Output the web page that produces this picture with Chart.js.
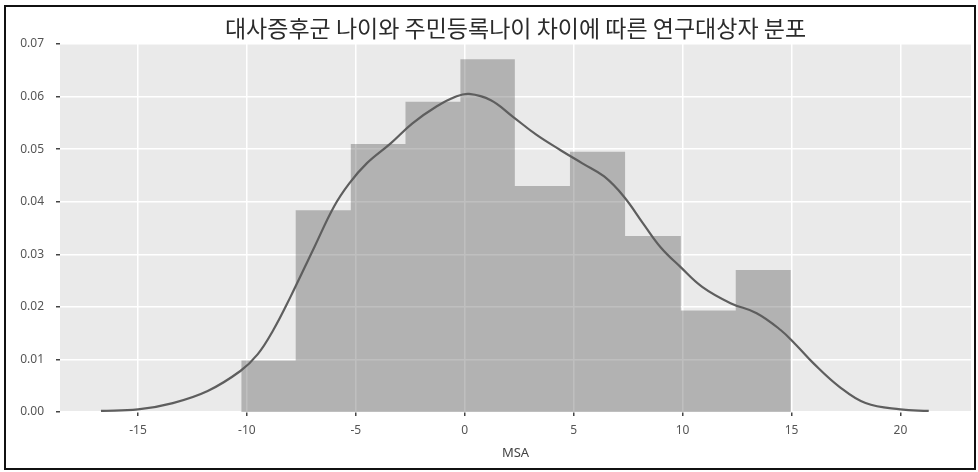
<!DOCTYPE html>
<html>
<head>
<meta charset="utf-8">
<script src="https://cdn.jsdelivr.net/npm/chart.js@4/dist/chart.umd.min.js"></script>
<style>
  html, body { margin: 0; padding: 0; background: #fff; }
  #wrap { position: relative; width: 978px; height: 472px; }
  #frame { position: absolute; left: 4px; top: 5px; width: 968px; height: 461px; border: 2px solid #111; pointer-events: none; }
  canvas { display: block; }
</style>
</head>
<body>
<div id="wrap">
  <canvas id="c" width="978" height="472"></canvas>
  <div id="frame"></div>
</div>
<script>
// Histogram bins (edges) and their density heights
const binEdges = [-10.26, -7.76, -5.23, -2.72, -0.2, 2.3, 4.83, 7.36, 9.92, 12.44, 14.97];
const binDensity = [0.0098, 0.0384, 0.0510, 0.0590, 0.0671, 0.0430, 0.0495, 0.0335, 0.0193, 0.0270];

// Kernel density estimate curve
const kdeX = [-16.7, -15.0, -13.4, -11.8, -10.3, -9.5, -8.8, -8.0, -6.9, -6.0, -5.3, -4.5, -3.4, -2.4, -1.3, -0.4, 0.2, 1.2, 2.2, 3.3, 4.4, 5.4, 6.4, 7.3, 8.2, 9.0, 9.9, 10.9, 12.2, 13.4, 14.5, 15.2, 16.0, 17.2, 18.4, 20.0, 21.3];
const kdeY = [0.0002, 0.0005, 0.0017, 0.0040, 0.0078, 0.0110, 0.0155, 0.0219, 0.0314, 0.0391, 0.0435, 0.0473, 0.0511, 0.0549, 0.0581, 0.0600, 0.0605, 0.0593, 0.0562, 0.0527, 0.0498, 0.0473, 0.0448, 0.0410, 0.0358, 0.0313, 0.0276, 0.0238, 0.0207, 0.0188, 0.0156, 0.0128, 0.0093, 0.0048, 0.0017, 0.0005, 0.0002];

const xTicks = [-15, -10, -5, 0, 5, 10, 15, 20];
const yTicks = [0, 0.01, 0.02, 0.03, 0.04, 0.05, 0.06, 0.07];

const titleText = '대사증후군 나이와 주민등록나이 차이에 따른 연구대상자 분포';
const xLabel = 'MSA';

// Histogram outline as a stepped series: bin i spans edge i to edge i+1 at binDensity[i]
const histData = binEdges.map((e, i) => ({ x: e, y: binDensity[Math.min(i, binDensity.length - 1)] }));
const kdeData = kdeX.map((x, i) => ({ x: x, y: kdeY[i] }));

// Plot background and centred title
const decor = {
  id: 'decor',
  beforeDraw(chart) {
    const { ctx, chartArea: a } = chart;
    ctx.save();
    ctx.fillStyle = '#eaeaea';
    ctx.fillRect(a.left, a.top, a.right - a.left, a.bottom - a.top);
    ctx.restore();
  },
  afterDraw(chart) {
    const { ctx, chartArea: a } = chart;
    ctx.save();
    ctx.fillStyle = '#2b2b2b';
    ctx.font = '23px "Noto Sans CJK KR", sans-serif';
    ctx.textAlign = 'center';
    ctx.textBaseline = 'middle';
    ctx.fillText(titleText, (a.left + a.right) / 2, 28);
    ctx.restore();
  }
};

const tickFont = { family: '"Noto Sans", "Open Sans", sans-serif', size: 12 };

new Chart(document.getElementById('c'), {
  type: 'line',
  data: {
    datasets: [
      {
        data: kdeData,
        borderColor: '#5e5e5e',
        borderWidth: 2.2,
        pointRadius: 0,
        tension: 0.4,
        fill: false,
        order: 0
      },
      {
        data: histData,
        stepped: 'before',
        backgroundColor: 'rgba(96,96,96,0.4)',
        borderWidth: 0,
        borderColor: 'rgba(0,0,0,0)',
        pointRadius: 0,
        fill: 'origin',
        order: 1
      }
    ]
  },
  plugins: [decor],
  options: {
    responsive: false,
    animation: false,
    layout: { padding: { left: 0, right: 7, top: 44, bottom: 0 } },
    plugins: { legend: { display: false }, tooltip: { enabled: false }, title: { display: false } },
    scales: {
      x: {
        type: 'linear',
        min: -18.58,
        max: 23.24,
        offset: false,
        afterBuildTicks: s => { s.ticks = xTicks.map(v => ({ value: v })); },
        afterFit: s => { s.height = 60; },
        grid: { color: '#ffffff', lineWidth: 1.5, offset: false, drawTicks: true, tickColor: '#444', tickLength: 4, tickWidth: 1.5 },
        border: { display: false },
        ticks: { color: '#555', font: tickFont, padding: 7, maxRotation: 0, callback: v => String(v) },
        title: { display: true, text: xLabel, color: '#444', font: { family: '"Noto Sans", sans-serif', size: 13 }, padding: { top: 2, bottom: 11 } }
      },
      y: {
        min: 0,
        max: 0.07,
        afterBuildTicks: s => { s.ticks = yTicks.map(v => ({ value: v })); },
        afterFit: s => { s.width = 60; },
        grid: { color: '#ffffff', lineWidth: 1.5, drawTicks: true, tickColor: '#444', tickLength: 4, tickWidth: 1.5 },
        border: { display: false },
        ticks: { color: '#555', font: tickFont, padding: 12, callback: v => v.toFixed(2) }
      }
    }
  }
});
</script>
</body>
</html>
